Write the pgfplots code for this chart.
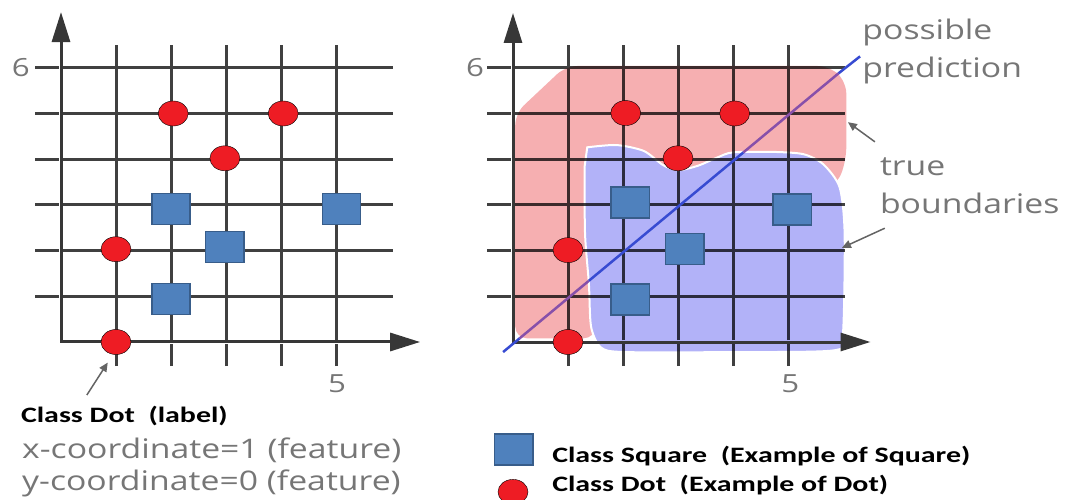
\documentclass[border=0pt]{standalone}
\usepackage{pgfplots}
\pgfplotsset{compat=1.18}
\usepackage{fontspec}
\usetikzlibrary{arrows.meta}
\setmainfont{Open Sans}
\newfontfamily\grayfont[FakeStretch=1.25]{Open Sans}
\newfontfamily\blackfont[FakeStretch=1.36]{Carlito}
\definecolor{txtgray}{RGB}{118,118,118}
\definecolor{arrgray}{RGB}{100,100,100}
\definecolor{axisc}{RGB}{55,55,55}
\definecolor{sqfill}{RGB}{79,129,189}
\definecolor{sqdraw}{RGB}{56,93,138}
\definecolor{dotred}{RGB}{238,28,36}
\definecolor{pinkr}{RGB}{246,175,177}
\definecolor{bluer}{RGB}{178,178,248}
\definecolor{predline}{RGB}{55,75,210}
\definecolor{predpurple}{RGB}{135,80,170}

\pgfplotsset{
  panel/.style={x=55pt, y=45.7pt, xmin=-1, xmax=7, ymin=-4, ymax=7.5,
    enlargelimits=false, hide axis, clip=false, anchor=south west},
  dotstyle/.style={only marks, mark=*, mark size=12.5pt,
    mark options={xscale=1.2, fill=dotred, draw=none}},
  sqstyle/.style={only marks, mark=square*, mark size=15.5pt,
    mark options={xscale=1.24, fill=sqfill, draw=sqdraw, line width=1.5pt}},
  gridpath/.style={no marks, line width=3pt, draw=black, draw opacity=0.75,
    unbounded coords=jump},
  axispath/.style={no marks, line width=3pt, draw=axisc,
    {Triangle[length=30pt,width=18pt]}-{Triangle[length=30pt,width=18pt]}},
}
\tikzset{
  ticklab/.style={text=txtgray, inner sep=0pt, font=\grayfont\fontsize{25}{28}\selectfont},
  graytext/.style={text=txtgray, inner sep=0pt, anchor=base west, font=\grayfont\fontsize{27}{32}\selectfont},
  blacktext/.style={text=black, inner sep=0pt, anchor=base west, font=\blackfont\bfseries\fontsize{22}{26}\selectfont},
}

% grid lines as one path, split where they cross the axes
\pgfplotstableread{
x y
-0.47 1
-0.028 1
nan nan
0.028 1
6.04 1
nan nan
-0.47 2
-0.028 2
nan nan
0.028 2
6.04 2
nan nan
-0.47 3
-0.028 3
nan nan
0.028 3
6.04 3
nan nan
-0.47 4
-0.028 4
nan nan
0.028 4
6.04 4
nan nan
-0.47 5
-0.028 5
nan nan
0.028 5
6.04 5
nan nan
-0.47 6
-0.028 6
nan nan
0.028 6
6.04 6
nan nan
1 -0.53
1 -0.033
nan nan
1 0.033
1 6.5
nan nan
2 -0.53
2 -0.033
nan nan
2 0.033
2 6.5
nan nan
3 -0.53
3 -0.033
nan nan
3 0.033
3 6.5
nan nan
4 -0.53
4 -0.033
nan nan
4 0.033
4 6.5
nan nan
5 -0.53
5 -0.033
nan nan
5 0.033
5 6.5
}\gridtable

\begin{document}
\begin{tikzpicture}
\useasboundingbox (0pt,0pt) rectangle (1072pt,-500pt);

% ---------------- left panel ----------------
\begin{axis}[panel, at={(6pt,-524.8pt)}]
\addplot[gridpath] table {\gridtable};
\addplot[axispath] coordinates {(0,7.22) (0,0) (6.53,0)};
\addplot[dotstyle] coordinates {(1,0) (1,2.03) (2.04,5) (2.98,4.02) (4.04,5)};
\addplot[sqstyle] coordinates {(2,0.94) (2,2.91) (2.98,2.08) (5.1,2.91)};
\node[ticklab] at (axis cs:-0.73,6) {6};
\node[ticklab] at (axis cs:5.02,-0.92) {5};
\draw[arrgray, line width=1.5pt, -{Triangle[length=9pt,width=8pt]}]
  (axis cs:0.47,-1.16) -- (axis cs:0.85,-0.45);
\node[blacktext] at (axis cs:-0.73,-1.77) {Class Dot\ \ (label)};
\node[graytext] at (axis cs:-0.71,-2.54) {x-coordinate=1 (feature)};
\node[graytext] at (axis cs:-0.71,-3.24) {y-coordinate=0 (feature)};
\end{axis}

% ---------------- right panel ----------------
\begin{axis}[panel, at={(458pt,-524.8pt)}]
\addplot[draw=none, fill=pinkr, rounded corners=12pt] coordinates {
  (0.04,0.08) (0.04,5.0) (0.96,6.04) (5.75,6.04) (6.06,5.7) (6.06,4.0)
  (5.9,3.45) (5.4,3.2) (1.6,3.2) (1.5,0.08)} -- cycle;
\addplot[fill=bluer, draw=white, line width=2pt, smooth, tension=0.45] coordinates {
  (1.35,4.26) (1.88,4.31) (2.38,4.18) (2.73,3.87) (3.01,3.76) (3.37,3.86)
  (3.72,4.04) (4.0,4.15) (4.72,4.16) (5.28,4.11) (5.64,3.89) (5.94,3.38)
  (6.03,2.36) (6.0,0.2) (5.85,-0.18) (4.0,-0.22) (2.02,-0.22) (1.6,-0.12)
  (1.42,0.33) (1.38,1.27) (1.31,2.36) (1.30,3.82)} -- cycle;
\addplot[gridpath] table {\gridtable};
\addplot[axispath] coordinates {(0,7.2) (0,0) (6.5,0)};
% possible prediction line (tinted where it lies under the pink region)
\addplot[no marks, predline, line width=2.5pt] coordinates {(-0.18,-0.22) (0.12,0.08)};
\addplot[no marks, predpurple, line width=2.5pt] coordinates {(0.12,0.08) (1.38,1.34)};
\addplot[no marks, predline, line width=2.5pt] coordinates {(1.38,1.34) (4.19,4.15)};
\addplot[no marks, predpurple, line width=2.5pt] coordinates {(4.19,4.15) (5.92,5.88)};
\addplot[no marks, predline, line width=2.5pt] coordinates {(5.92,5.88) (6.31,6.25)};
\addplot[dotstyle] coordinates {(1,0) (1,2.01) (2.05,5.01) (3,4.02) (4.03,5)};
\addplot[sqstyle] coordinates {(2.13,0.93) (2.13,3.05) (3.12,2.04) (5.08,2.9)};
% legend markers
\addplot[sqstyle] coordinates {(0.01,-2.35)};
\addplot[dotstyle] coordinates {(0,-3.28)};
\node[ticklab] at (axis cs:-0.69,6) {6};
\node[ticklab] at (axis cs:5.04,-0.92) {5};
\node[graytext] at (axis cs:6.35,6.61) {possible};
\node[graytext] at (axis cs:6.35,5.78) {prediction};
\node[graytext] at (axis cs:6.67,3.65) {true};
\node[graytext] at (axis cs:6.67,2.82) {boundaries};
\draw[arrgray, line width=1.5pt, -{Triangle[length=9pt,width=8pt]}]
  (axis cs:6.58,4.38) -- (axis cs:6.09,4.81);
\draw[arrgray, line width=1.5pt, -{Triangle[length=9pt,width=8pt]}]
  (axis cs:6.76,2.49) -- (axis cs:5.98,2.06);
\node[blacktext] at (axis cs:0.71,-2.63) {Class Square\ \ (Example of Square)};
\node[blacktext] at (axis cs:0.71,-3.28) {Class Dot\ \ (Example of Dot)};
\end{axis}
\end{tikzpicture}
\end{document}
